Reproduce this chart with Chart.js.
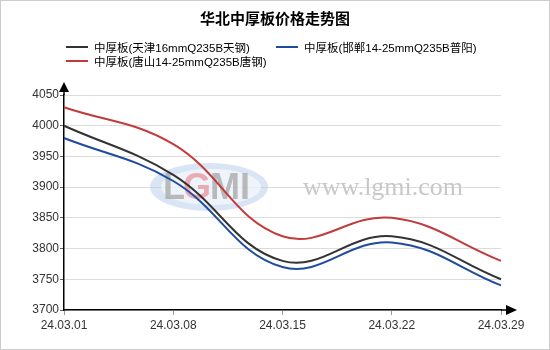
<!DOCTYPE html>
<html>
<head>
<meta charset="utf-8">
<script src="https://cdn.jsdelivr.net/npm/chart.js@4.4.1/dist/chart.umd.min.js"></script>
<style>
    body { margin: 0; background: #fff; }
    #box { position: relative; width: 548px; height: 348px; border: 1px solid #ccc; background: #fff; }
    #titulo { position: absolute; left: 0; top: 7px; width: 100%; text-align: center;
        font: bold 15px "Noto Sans CJK SC", "Liberation Sans", sans-serif; color: #000; line-height: 20px; }
    #legenda { position: absolute; left: 65px; top: 39px; width: 440px; display: flex; flex-wrap: wrap; }
    .item { width: 210px; height: 14px; display: flex; align-items: center;
        font: 11.5px "Liberation Sans", "Noto Sans CJK SC", sans-serif; color: #000; white-space: nowrap; }
    .linha { width: 22px; height: 2px; margin-right: 6px; }
    canvas { position: absolute; left: 0; top: 0; }
</style>
</head>
<body>
<div id="box">
    <canvas id="grafico" width="548" height="348"></canvas>
    <div id="titulo">华北中厚板价格走势图</div>
    <div id="legenda"></div>
</div>
<script>
const labels = ['24.03.01', '24.03.08', '24.03.15', '24.03.22', '24.03.29'];
const tianjin = [4000, 3920, 3780, 3820, 3750];
const handan = [3980, 3910, 3770, 3810, 3740];
const tangshan = [4030, 3970, 3820, 3850, 3780];
const yMin = 3700;
const yMax = 4050;
const yStep = 50;

const series = [
    { nome: '中厚板(天津16mmQ235B天钢)', dados: tianjin, cor: '#333333' },
    { nome: '中厚板(邯郸14-25mmQ235B普阳)', dados: handan, cor: '#1f4c9c' },
    { nome: '中厚板(唐山14-25mmQ235B唐钢)', dados: tangshan, cor: '#c23b3b' }
];

function montarLegenda() {
    const legenda = document.getElementById('legenda');
    series.forEach(s => {
        const div = document.createElement('div');
        div.className = 'item';
        div.innerHTML = `<span class="linha" style="background:${s.cor}"></span>${s.nome}`;
        legenda.appendChild(div);
    });
}

// logo + site text behind the lines, arrows on the axes
const extras = {
    id: 'extras',
    beforeDatasetsDraw(chart) {
        const ctx = chart.ctx;
        ctx.save();
        ctx.fillStyle = 'rgba(170,195,230,0.45)';
        ctx.beginPath();
        ctx.ellipse(208, 186, 59, 24, 0, 0, Math.PI * 2);
        ctx.fill();
        ctx.fillStyle = 'rgba(255,255,255,0.6)';
        ctx.beginPath();
        ctx.ellipse(210, 186, 50, 18, 0, 0, Math.PI * 2);
        ctx.fill();
        ctx.font = 'bold 36px "Liberation Sans", sans-serif';
        ctx.textBaseline = 'middle';
        ctx.fillStyle = 'rgba(160,160,160,0.7)';
        ctx.fillText('L', 162, 188);
        ctx.fillStyle = 'rgba(230,140,150,0.7)';
        ctx.fillText('G', 182, 188);
        ctx.fillStyle = 'rgba(160,160,160,0.7)';
        ctx.fillText('MI', 209, 188);
        ctx.font = '26px "Liberation Serif", serif';
        ctx.fillStyle = '#c8c8c8';
        ctx.fillText('www.lgmi.com', 302, 187);
        ctx.restore();
    },
    afterDraw(chart) {
        const { left, right, top, bottom } = chart.chartArea;
        const ctx = chart.ctx;
        ctx.save();
        ctx.strokeStyle = '#000';
        ctx.lineWidth = 1.5;
        ctx.beginPath();
        ctx.moveTo(left, top);
        ctx.lineTo(left, top - 4);
        ctx.moveTo(right, bottom);
        ctx.lineTo(right + 6, bottom);
        ctx.stroke();
        ctx.fillStyle = '#000';
        ctx.beginPath();
        ctx.moveTo(left, top - 13);
        ctx.lineTo(left - 5, top - 3);
        ctx.lineTo(left + 5, top - 3);
        ctx.closePath();
        ctx.fill();
        ctx.beginPath();
        ctx.moveTo(right + 16, bottom);
        ctx.lineTo(right + 5, bottom - 5);
        ctx.lineTo(right + 5, bottom + 5);
        ctx.closePath();
        ctx.fill();
        ctx.restore();
    }
};

function gerarGrafico() {
    const ctx = document.getElementById('grafico').getContext('2d');
    new Chart(ctx, {
        type: 'line',
        data: {
            labels: labels,
            datasets: series.map(s => ({
                label: s.nome,
                data: s.dados,
                borderColor: s.cor,
                backgroundColor: s.cor,
                borderWidth: 2,
                pointRadius: 0,
                tension: 0.4,
                fill: false
            }))
        },
        options: {
            responsive: false,
            animation: false,
            layout: { padding: { top: 94, right: 48, bottom: 14, left: 0 } },
            plugins: {
                legend: { display: false },
                tooltip: { enabled: false }
            },
            scales: {
                x: {
                    offset: false,
                    afterFit: s => { s.height = 25; },
                    grid: { drawOnChartArea: false, drawTicks: true, tickLength: 5, color: '#999' },
                    border: { color: '#000', width: 1.5 },
                    ticks: { color: '#333', padding: 3, maxRotation: 0,
                        font: { family: '"Liberation Sans", sans-serif', size: 12 } }
                },
                y: {
                    min: yMin,
                    max: yMax,
                    afterFit: s => { s.width = 63; },
                    grid: { color: '#dcdcdc', tickLength: 4, tickColor: '#666' },
                    border: { color: '#000', width: 1.5 },
                    ticks: { stepSize: yStep, color: '#333', padding: 1,
                        callback: v => String(v),
                        font: { family: '"Liberation Sans", sans-serif', size: 12 } }
                }
            }
        },
        plugins: [extras]
    });
}

montarLegenda();
gerarGrafico();
</script>
</body>
</html>
